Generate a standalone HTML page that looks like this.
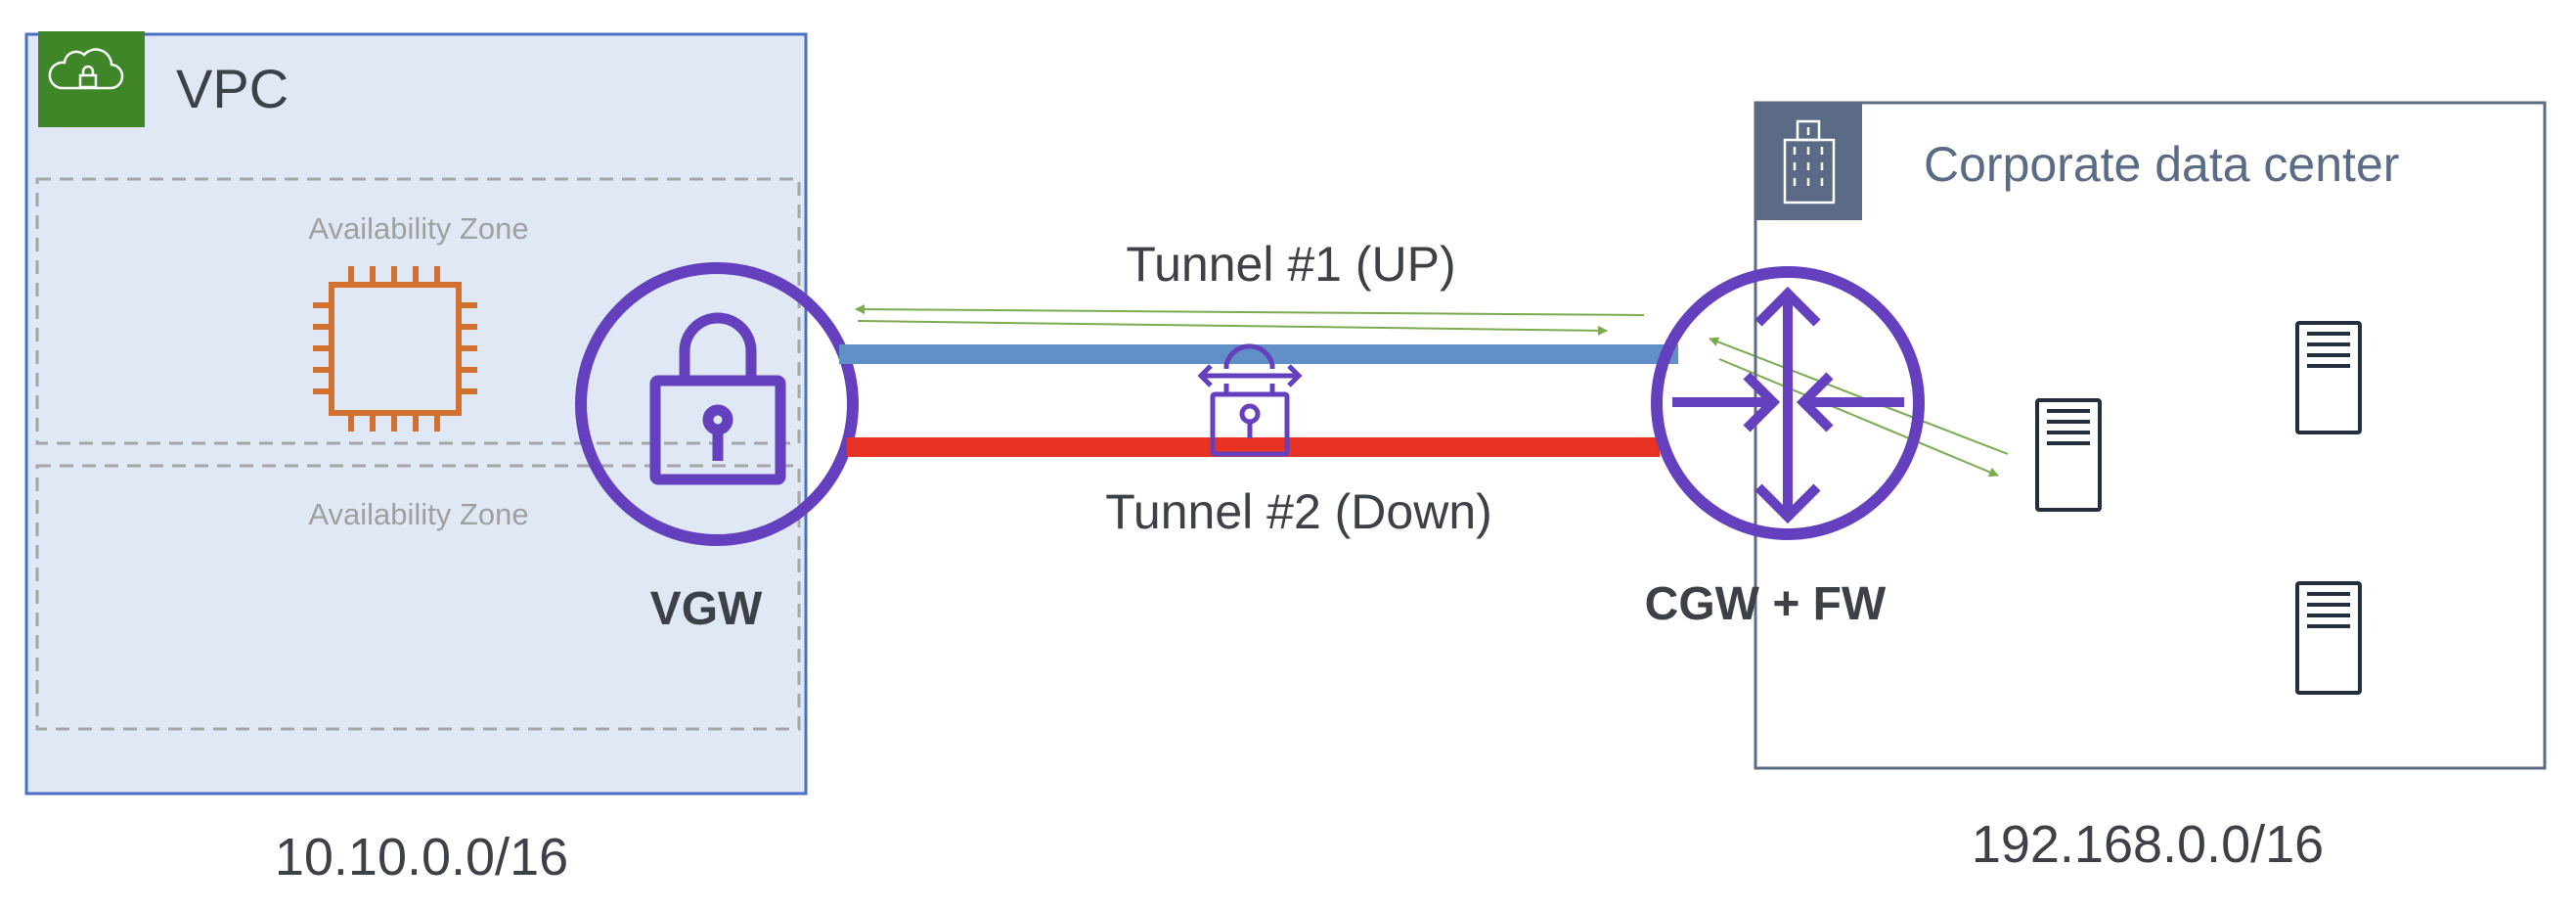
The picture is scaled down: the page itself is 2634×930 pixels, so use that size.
<!DOCTYPE html>
<html><head><meta charset="utf-8"><style>
html,body{margin:0;padding:0;background:#fff;}
svg{display:block;}
text{font-family:"Liberation Sans",sans-serif;}
</style></head><body>
<svg width="2634" height="930" viewBox="0 0 2634 930" xmlns="http://www.w3.org/2000/svg">
<defs>
<marker id="ah" markerWidth="10" markerHeight="10" refX="9" refY="5" orient="auto" markerUnits="userSpaceOnUse" viewBox="0 0 10 10">
<path d="M0,0 L10,5 L0,10 z" fill="#7aac4f"/>
</marker>
</defs>
<!-- VPC -->
<rect x="27" y="35" width="797" height="776" fill="#dfe8f4" stroke="#4a6fc4" stroke-width="3"/>
<rect x="39" y="32" width="109" height="98" fill="#3f8628"/>
<path d="M62,90 h50 a12,12 0 0 0 2,-24 a16,16 0 0 0 -28,-10 a12,12 0 0 0 -20,8 a13,13 0 0 0 -4,26 z" fill="none" stroke="#fff" stroke-width="2.5"/>
<rect x="82" y="77" width="16" height="12" fill="none" stroke="#fff" stroke-width="2.5"/>
<path d="M85,77 v-4 a5,5 0 0 1 10,0 v4" fill="none" stroke="#fff" stroke-width="2.5"/>
<text x="180" y="110" font-size="56" fill="#3d4147">VPC</text>
<!-- AZs -->
<rect x="38" y="183" width="779" height="270" fill="none" stroke="#a6a6a6" stroke-width="3" stroke-dasharray="14,9"/>
<rect x="38" y="476" width="779" height="269" fill="none" stroke="#a6a6a6" stroke-width="3" stroke-dasharray="14,9"/>
<text x="428" y="244" font-size="31" fill="#a0a0a0" text-anchor="middle">Availability Zone</text>
<text x="428" y="536" font-size="31" fill="#a0a0a0" text-anchor="middle">Availability Zone</text>
<!-- chip -->
<g stroke="#d2702f" stroke-width="6" fill="none">
<rect x="339" y="291" width="130" height="131"/>
<path d="M359,291v-19M381,291v-19M403,291v-19M425,291v-19M447,291v-19"/>
<path d="M359,422v19M381,422v19M403,422v19M425,422v19M447,422v19"/>
<path d="M339,312h-19M339,334h-19M339,356h-19M339,378h-19M339,400h-19"/>
<path d="M469,312h19M469,334h19M469,356h19M469,378h19M469,400h19"/>
</g>
<!-- VGW -->
<circle cx="733" cy="413" r="139" fill="none" stroke="#6440be" stroke-width="12"/>
<g stroke="#6440be" stroke-width="11" fill="none">
<rect x="670" y="389" width="128" height="101" rx="3"/>
<path d="M700,389 v-30 a34,34 0 0 1 68,0 v30"/>
<circle cx="734" cy="429" r="10"/>
<path d="M734,439 v32"/>
</g>
<text x="722" y="638" font-size="48" font-weight="bold" fill="#3d4147" text-anchor="middle">VGW</text>
<text x="431" y="894" font-size="54" fill="#3d4147" text-anchor="middle">10.10.0.0/16</text>
<!-- Tunnels -->
<rect x="858" y="352" width="858" height="20" fill="#6190c9"/>
<rect x="866" y="447" width="831" height="20" fill="#e83324"/>
<text x="1320" y="287" font-size="50" fill="#3d4147" text-anchor="middle">Tunnel #1 (UP)</text>
<text x="1328" y="540" font-size="50" fill="#3d4147" text-anchor="middle">Tunnel #2 (Down)</text>
<line x1="1681" y1="322" x2="875" y2="316" stroke="#7aac4f" stroke-width="2" marker-end="url(#ah)"/>
<line x1="877" y1="328" x2="1643" y2="338" stroke="#7aac4f" stroke-width="2" marker-end="url(#ah)"/>
<line x1="2053" y1="464" x2="1748" y2="346" stroke="#7aac4f" stroke-width="2" marker-end="url(#ah)"/>
<line x1="1758" y1="367" x2="2043" y2="486" stroke="#7aac4f" stroke-width="2" marker-end="url(#ah)"/>
<!-- small lock -->
<g stroke="#6440be" stroke-width="5" fill="none">
<path d="M1254,377 v-4 a24,24 0 0 1 47,0 v4"/>
<path d="M1254,392 v11 M1301,392 v11"/>
<path d="M1228,384 h100 M1238,374 l-10,10 l10,10 M1318,374 l10,10 l-10,10"/>
<rect x="1240" y="403" width="76" height="61" rx="2"/>
<circle cx="1278" cy="423" r="8"/>
<path d="M1278,431 v17"/>
</g>
<!-- Corporate -->
<rect x="1795" y="105" width="807" height="680" fill="none" stroke="#5b6b85" stroke-width="3"/>
<rect x="1795" y="105" width="109" height="120" fill="#5b6b85"/>
<g stroke="#fff" stroke-width="2.5" fill="none">
<rect x="1825" y="143" width="50" height="64"/>
<rect x="1838" y="124" width="22" height="19"/>
<path d="M1835,150v8M1849,150v8M1863,150v8M1835,166v8M1849,166v8M1863,166v8M1835,182v8M1849,182v8M1863,182v8M1849,130v8"/>
</g>
<text x="1967" y="185" font-size="50" fill="#5b6b85">Corporate data center</text>
<g stroke="#232f3e" stroke-width="4" fill="none">
<rect x="2083" y="409" width="64" height="112" rx="2"/>
<path d="M2093,420h44M2093,431h44M2093,442h44M2093,453h44"/>
<rect x="2349" y="330" width="64" height="112" rx="2"/>
<path d="M2359,341h44M2359,352h44M2359,363h44M2359,374h44"/>
<rect x="2349" y="596" width="64" height="112" rx="2"/>
<path d="M2359,607h44M2359,618h44M2359,629h44M2359,640h44"/>
</g>
<!-- CGW -->
<circle cx="1828" cy="412" r="134" fill="none" stroke="#6440be" stroke-width="12"/>
<g stroke="#6440be" stroke-width="10" fill="none">
<path d="M1828,302 v224 M1798,330 l30,-30 l30,30 M1798,498 l30,30 l30,-30"/>
<path d="M1710,411 h100 M1786,384 l27,27 l-27,27"/>
<path d="M1947,411 h-100 M1871,384 l-27,27 l27,27"/>
</g>
<text x="1805" y="633" font-size="48" font-weight="bold" fill="#3d4147" text-anchor="middle">CGW + FW</text>
<text x="2196" y="881" font-size="54" fill="#3d4147" text-anchor="middle">192.168.0.0/16</text>
</svg>
</body></html>
